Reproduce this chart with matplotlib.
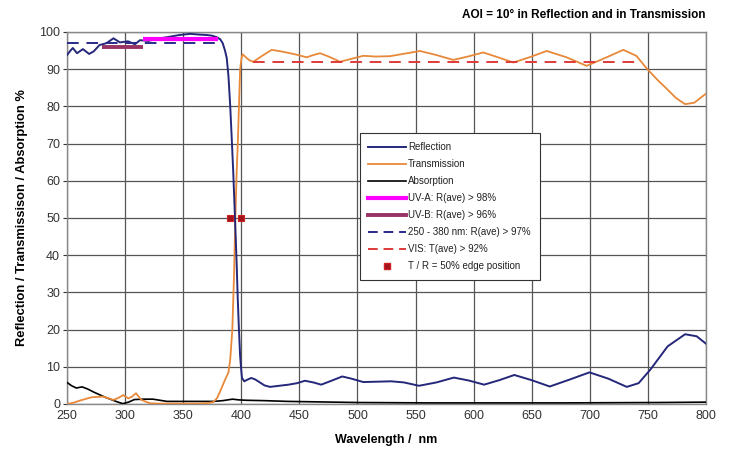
import matplotlib
matplotlib.use("Agg")
import matplotlib.pyplot as plt
from matplotlib.lines import Line2D
import numpy as np

# ---- data ----
refl_wl = [250, 253, 255, 258.6, 263.7, 269, 273, 278, 284, 290, 295.6, 302.5, 308.5, 312.8, 320, 328, 336, 347, 356, 364, 370, 375, 379, 382, 384,
           386, 387.5, 389, 390.5, 391.7, 393, 394.6, 396, 397, 398, 399, 400, 400.6, 402.6, 405, 408.6, 412, 416, 420, 424.7, 430, 440.7,
           448, 454.8, 462, 468.8, 478, 486.9, 495, 505, 517, 529, 540, 553, 568, 583, 596, 609, 622, 635, 650, 665.5, 682, 699.7,
           716, 731.8, 742, 752, 767, 782, 792, 800]
refl_val = [93.8, 95.0, 95.7, 94.3, 95.4, 94.1, 94.8, 96.5, 97.0, 98.3, 97.2, 97.5, 96.7, 97.8, 97.6, 98.2, 98.6, 99.2, 99.5, 99.3, 99.2, 99.0, 98.6, 98.0, 97.0,
            95.0, 93.0, 88.0, 80.0, 72.0, 63.0, 50.0, 38.0, 28.0, 20.0, 13.0, 9.0, 7.0, 6.1, 6.5, 7.0, 6.6, 5.8, 5.0, 4.6, 4.8, 5.2,
            5.6, 6.25, 5.8, 5.2, 6.3, 7.4, 6.8, 5.9, 6.0, 6.1, 5.8, 4.9, 5.8, 7.1, 6.3, 5.2, 6.4, 7.8, 6.4, 4.7, 6.5, 8.5,
            6.8, 4.6, 5.6, 9.2, 15.5, 18.75, 18.2, 16.2]

trans_wl = [250, 255, 262, 271, 281, 290, 294, 298.5, 302.8, 306, 309.4, 314, 321.4, 330, 345, 360, 370, 375.8, 379, 381.7, 384, 386, 389,
            390.5, 392.3, 393.8, 394.9, 396, 397, 398, 399, 400.2, 401.2, 404, 407, 410.4, 418, 426.2, 434, 442, 449, 456.3, 462, 467.8,
            476, 485, 495, 505, 516, 528, 541, 553.8, 568, 582.5, 595, 608.3, 621, 634.2, 648, 662.9, 680, 697.3, 713, 728.8, 740,
            749, 758, 766, 774, 782, 790, 799, 800]
trans_val = [0.0, 0.3, 1.0, 1.8, 2.0, 1.1, 1.6, 2.4, 1.5, 2.0, 2.9, 1.1, 0.2, 0.1, 0.1, 0.1, 0.2, 0.5, 1.5, 3.3, 5.0, 6.5, 8.5,
             12.0, 20.0, 35.0, 50.0, 62.0, 70.0, 80.0, 89.9, 93.0, 94.0, 93.2, 92.4, 92.0, 93.6, 95.2, 94.8, 94.3, 93.8, 93.2, 93.8, 94.3,
             93.3, 92.0, 92.8, 93.6, 93.4, 93.5, 94.2, 94.9, 93.8, 92.5, 93.4, 94.5, 93.2, 91.8, 93.2, 94.9, 93.2, 90.9, 93.0, 95.2, 93.6,
             90.2, 87.2, 84.8, 82.3, 80.6, 81.0, 83.2, 83.4]

absn_wl = [250, 254, 258, 263, 268, 273, 278, 283, 288, 293, 298, 303, 308, 316, 324, 330, 336, 344, 352, 364, 376, 384, 392.5, 398, 404.6,
           420, 440, 460, 480, 500, 530, 560, 600, 640, 680, 720, 760, 800]
absn_val = [5.8, 4.9, 4.3, 4.6, 4.0, 3.2, 2.5, 1.8, 1.2, 0.6, 0.1, 0.5, 1.2, 1.3, 1.3, 1.0, 0.7, 0.7, 0.7, 0.7, 0.7, 0.9, 1.3, 1.1, 1.0,
            0.9, 0.7, 0.6, 0.5, 0.4, 0.35, 0.3, 0.3, 0.3, 0.3, 0.35, 0.4, 0.5]

uva_wl, uva_val = [315, 380], [98, 98]
uvb_wl, uvb_val = [280, 315], [96, 96]
rave_wl, rave_val = [250, 380], [97, 97]
tave_wl, tave_val = [410, 740], [92, 92]
edge_wl, edge_val = [390, 400], [50, 50]

xticks = [250, 300, 350, 400, 450, 500, 550, 600, 650, 700, 750, 800]
yticks = [0, 10, 20, 30, 40, 50, 60, 70, 80, 90, 100]

labels = ["Reflection", "Transmission", "Absorption", "UV-A: R(ave) > 98%", "UV-B: R(ave) > 96%",
          "250 - 380 nm: R(ave) > 97%", "VIS: T(ave) > 92%", "T / R = 50% edge position"]

# ---- figure ----
plt.rcParams['font.family'] = ['Liberation Sans', 'DejaVu Sans']
fig = plt.figure(figsize=(7.29, 4.50), dpi=100)
ax = fig.add_axes([67/729, 1-404/450, (706-67)/729, (404-32)/450])

c_refl = '#25287a'
c_trans = '#e8893a'
c_uva = '#ff00ff'
c_uvb = '#993366'
c_rave = '#2a2a8a'
c_tave = '#e03a3a'

ax.plot(absn_wl, absn_val, color='black', lw=1.2, zorder=3)
ax.plot(trans_wl, trans_val, color=c_trans, lw=1.3, zorder=4)
ax.plot(refl_wl, refl_val, color=c_refl, lw=1.4, zorder=5)
ax.plot(uvb_wl, uvb_val, color=c_uvb, lw=2.8, solid_capstyle='butt', zorder=6)
ax.plot(uva_wl, uva_val, color=c_uva, lw=3.0, solid_capstyle='butt', zorder=6)
ax.plot(rave_wl, rave_val, color=c_rave, lw=1.4, dashes=(6, 4), zorder=7)
ax.plot(tave_wl, tave_val, color=c_tave, lw=1.4, dashes=(6, 4), zorder=7)
ax.plot(edge_wl, edge_val, linestyle='none', marker='s', markersize=5,
        markerfacecolor='#a0141c', markeredgecolor='#d02020', markeredgewidth=0.8, zorder=8)

ax.set_xlim(250, 800)
ax.set_ylim(0, 100)
ax.set_xticks(xticks)
ax.set_yticks(yticks)
ax.grid(True, color='#555555', lw=0.9)
ax.set_axisbelow(True)
for s in ax.spines.values():
    s.set_color('#888888')
    s.set_linewidth(1.0)
ax.tick_params(axis='both', labelsize=9, colors='#333333', length=3, width=0.8, pad=2)
ax.tick_params(axis='x', length=0, pad=4)

ax.set_xlabel("Wavelength /  nm", fontsize=9, fontweight='bold', labelpad=9)
ax.set_ylabel("Reflection / Transmissison / Absorption %", fontsize=9.3, fontweight='bold', labelpad=8)

fig.text(706/729, 1-15/450, "AOI = 10° in Reflection and in Transmission", ha='right', va='center',
         fontsize=8.5, fontweight='bold')

handles = [
    Line2D([], [], color=c_refl, lw=1.4),
    Line2D([], [], color=c_trans, lw=1.3),
    Line2D([], [], color='black', lw=1.2),
    Line2D([], [], color=c_uva, lw=3.0),
    Line2D([], [], color=c_uvb, lw=2.8),
    Line2D([], [], color=c_rave, lw=1.4, dashes=(5, 3)),
    Line2D([], [], color=c_tave, lw=1.4, dashes=(5, 3)),
    Line2D([], [], linestyle='none', marker='s', markersize=4.5, markerfacecolor='#a0141c', markeredgecolor='#d02020'),
]
leg = ax.legend(handles, labels, loc='upper left', bbox_to_anchor=(0.458, 0.728), fontsize=7,
                frameon=True, fancybox=False, edgecolor='#333333', framealpha=1, borderpad=0.9,
                labelspacing=0.72, handlelength=3.9, handletextpad=0.2, borderaxespad=0.0)
leg.get_frame().set_linewidth(0.8)
for t in leg.get_texts():
    t.set_color('#222222')

fig.savefig("out.png", dpi=100)
